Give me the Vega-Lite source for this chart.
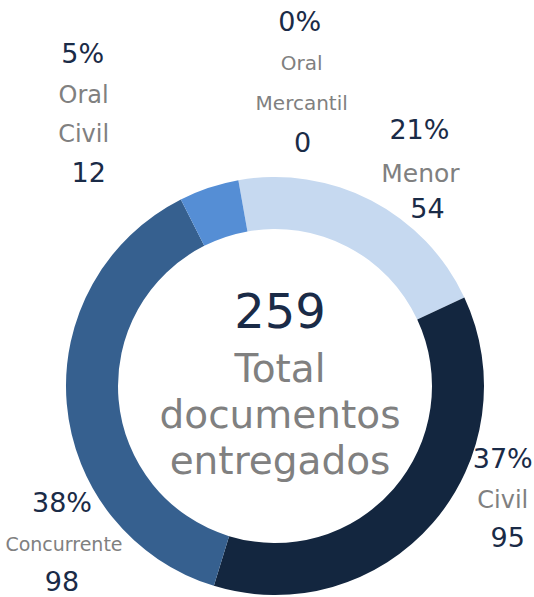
{
  "$schema": "https://vega.github.io/schema/vega-lite/v6.json",
  "width": 418,
  "height": 418,
  "autosize": "none",
  "padding": {"left": 66, "top": 177, "right": 50, "bottom": 2},
  "background": "white",
  "config": {"view": {"stroke": null}},
  "data": {
    "values": [
      {"categoria": "Menor", "valor": 54, "pct": 0.21, "orden": 1},
      {"categoria": "Civil", "valor": 95, "pct": 0.37, "orden": 2},
      {"categoria": "Concurrente", "valor": 98, "pct": 0.38, "orden": 3},
      {"categoria": "Oral Civil", "valor": 12, "pct": 0.05, "orden": 4},
      {"categoria": "Oral Mercantil", "valor": 0, "pct": 0.0, "orden": 5}
    ]
  },
  "encoding": {
    "theta": {"field": "valor", "type": "quantitative", "stack": true, "scale": {"range": [-0.17628, 6.10691]}},
    "order": {"field": "orden", "type": "quantitative", "sort": "ascending"}
  },
  "layer": [
    {
      "mark": {"type": "arc", "innerRadius": 157, "outerRadius": 209},
      "encoding": {
        "color": {"field": "categoria", "type": "nominal", "legend": null,
          "scale": {"domain": ["Menor", "Civil", "Concurrente", "Oral Civil", "Oral Mercantil"],
                    "range": ["#C6D9F0", "#13263F", "#36608F", "#558ED5", "#8EB4E3"]}}
      }
    },
    {"mark": {"type": "text", "radius": 257, "dx": 26, "dy": -27, "font": "DejaVu Sans", "fontSize": 27, "color": "#1A2B47", "align": "center", "baseline": "middle"},
     "encoding": {"text": {"condition": {"test": "datum.categoria === 'Menor'", "field": "pct", "type": "quantitative", "format": ".0%"}, "value": ""}}},
    {"mark": {"type": "text", "radius": 257, "dx": 27, "dy": 16, "font": "DejaVu Sans", "fontSize": 25, "color": "#808080", "align": "center", "baseline": "middle", "lineBreak": " ", "lineHeight": 39},
     "encoding": {"text": {"condition": {"test": "datum.categoria === 'Menor'", "field": "categoria", "type": "nominal"}, "value": ""}}},
    {"mark": {"type": "text", "radius": 257, "dx": 34, "dy": 52, "font": "DejaVu Sans", "fontSize": 27, "color": "#1A2B47", "align": "center", "baseline": "middle"},
     "encoding": {"text": {"condition": {"test": "datum.categoria === 'Menor'", "field": "valor", "type": "quantitative"}, "value": ""}}},

    {"mark": {"type": "text", "radius": 254, "dx": 36, "dy": -93, "font": "DejaVu Sans", "fontSize": 27, "color": "#1A2B47", "align": "center", "baseline": "middle"},
     "encoding": {"text": {"condition": {"test": "datum.categoria === 'Civil'", "field": "pct", "type": "quantitative", "format": ".0%"}, "value": ""}}},
    {"mark": {"type": "text", "radius": 254, "dx": 36, "dy": -52, "font": "DejaVu Sans", "fontSize": 24, "color": "#808080", "align": "center", "baseline": "middle", "lineBreak": " ", "lineHeight": 39},
     "encoding": {"text": {"condition": {"test": "datum.categoria === 'Civil'", "field": "categoria", "type": "nominal"}, "value": ""}}},
    {"mark": {"type": "text", "radius": 254, "dx": 41, "dy": -14, "font": "DejaVu Sans", "fontSize": 27, "color": "#1A2B47", "align": "center", "baseline": "middle"},
     "encoding": {"text": {"condition": {"test": "datum.categoria === 'Civil'", "field": "valor", "type": "quantitative"}, "value": ""}}},

    {"mark": {"type": "text", "radius": 263, "dx": 49, "dy": 96, "font": "DejaVu Sans", "fontSize": 27, "color": "#1A2B47", "align": "center", "baseline": "middle"},
     "encoding": {"text": {"condition": {"test": "datum.categoria === 'Concurrente'", "field": "pct", "type": "quantitative", "format": ".0%"}, "value": ""}}},
    {"mark": {"type": "text", "radius": 263, "dx": 51, "dy": 137, "font": "DejaVu Sans", "fontSize": 19, "color": "#808080", "align": "center", "baseline": "middle", "lineBreak": " ", "lineHeight": 39},
     "encoding": {"text": {"condition": {"test": "datum.categoria === 'Concurrente'", "field": "categoria", "type": "nominal"}, "value": ""}}},
    {"mark": {"type": "text", "radius": 263, "dx": 49, "dy": 175, "font": "DejaVu Sans", "fontSize": 27, "color": "#1A2B47", "align": "center", "baseline": "middle"},
     "encoding": {"text": {"condition": {"test": "datum.categoria === 'Concurrente'", "field": "valor", "type": "quantitative"}, "value": ""}}},

    {"mark": {"type": "text", "radius": 333, "dx": -87, "dy": -15, "font": "DejaVu Sans", "fontSize": 27, "color": "#1A2B47", "align": "center", "baseline": "middle"},
     "encoding": {"text": {"condition": {"test": "datum.categoria === 'Oral Civil'", "field": "pct", "type": "quantitative", "format": ".0%"}, "value": ""}}},
    {"mark": {"type": "text", "radius": 333, "dx": -86, "dy": 26, "font": "DejaVu Sans", "fontSize": 24, "color": "#808080", "align": "center", "baseline": "middle", "lineBreak": " ", "lineHeight": 39},
     "encoding": {"text": {"condition": {"test": "datum.categoria === 'Oral Civil'", "field": "categoria", "type": "nominal"}, "value": ""}}},
    {"mark": {"type": "text", "radius": 333, "dx": -81, "dy": 104, "font": "DejaVu Sans", "fontSize": 27, "color": "#1A2B47", "align": "center", "baseline": "middle"},
     "encoding": {"text": {"condition": {"test": "datum.categoria === 'Oral Civil'", "field": "valor", "type": "quantitative"}, "value": ""}}},

    {"mark": {"type": "text", "radius": 304, "dx": 78, "dy": -64, "font": "DejaVu Sans", "fontSize": 27, "color": "#1A2B47", "align": "center", "baseline": "middle"},
     "encoding": {"text": {"condition": {"test": "datum.categoria === 'Oral Mercantil'", "field": "pct", "type": "quantitative", "format": ".0%"}, "value": ""}}},
    {"mark": {"type": "text", "radius": 304, "dx": 80, "dy": -23, "font": "DejaVu Sans", "fontSize": 20, "color": "#808080", "align": "center", "baseline": "middle", "lineBreak": " ", "lineHeight": 40},
     "encoding": {"text": {"condition": {"test": "datum.categoria === 'Oral Mercantil'", "field": "categoria", "type": "nominal"}, "value": ""}}},
    {"mark": {"type": "text", "radius": 304, "dx": 81, "dy": 57, "font": "DejaVu Sans", "fontSize": 27, "color": "#1A2B47", "align": "center", "baseline": "middle"},
     "encoding": {"text": {"condition": {"test": "datum.categoria === 'Oral Mercantil'", "field": "valor", "type": "quantitative"}, "value": ""}}},

    {"transform": [{"aggregate": [{"op": "sum", "field": "valor", "as": "valor"}]}, {"calculate": "1", "as": "orden"}],
     "mark": {"type": "text", "radius": 0, "dx": 5, "dy": -72, "font": "DejaVu Sans", "fontSize": 48, "color": "#1A2B47", "align": "center", "baseline": "middle"},
     "encoding": {"text": {"field": "valor", "type": "quantitative"}}},
    {"transform": [{"aggregate": [{"op": "sum", "field": "valor", "as": "valor"}]}, {"calculate": "1", "as": "orden"}],
     "mark": {"type": "text", "radius": 0, "dx": 5, "dy": -16, "font": "DejaVu Sans", "fontSize": 39, "color": "#808080", "align": "center", "baseline": "middle", "lineBreak": "|", "lineHeight": 46, "text": "Total|documentos|entregados"},
     "encoding": {}}
  ]
}
